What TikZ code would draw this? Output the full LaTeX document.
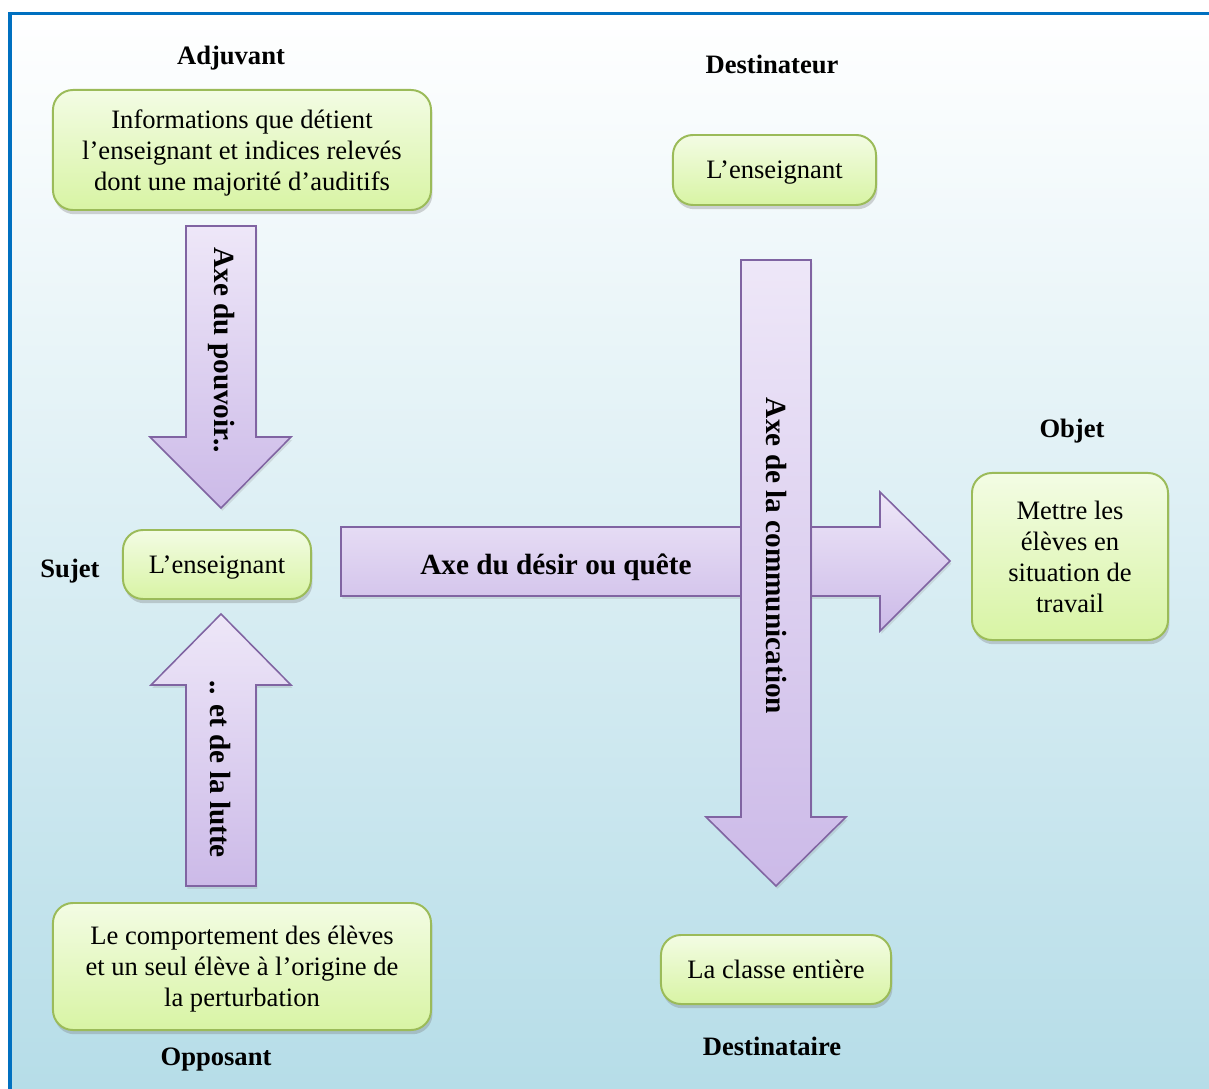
\documentclass[tikz,border=0pt]{standalone}
\usepackage{fontspec}
\setmainfont{Liberation Serif}
\usetikzlibrary{shadows}
\definecolor{frameblue}{HTML}{0070C0}
\definecolor{bgbottom}{HTML}{B6DDE8}
\definecolor{boxline}{HTML}{9BBB59}
\definecolor{boxtop}{HTML}{F3FCE4}
\definecolor{boxbottom}{HTML}{D8F4A4}
\definecolor{axeline}{HTML}{8064A2}
\definecolor{axetop}{HTML}{EEE7F8}
\definecolor{axebottom}{HTML}{CCBAE8}
\tikzset{
	actant/.style={font=\fontsize{18.9}{22}\selectfont\bfseries},
	greenbox/.style={draw=boxline,line width=1.4pt,rounded corners=0.5cm,
		top color=boxtop,bottom color=boxbottom,align=center,inner sep=0pt,
		text depth=0pt,font=\fontsize{18.9}{22}\selectfont,
		drop shadow={shadow xshift=1pt,shadow yshift=-3pt,opacity=0.3,fill=black!55}},
	axe/.style={draw=axeline,line width=1.1pt,top color=axetop,bottom color=axebottom,
		drop shadow={shadow xshift=1pt,shadow yshift=-2pt,opacity=0.2,fill=black!50}},
	axetext/.style={font=\fontsize{20.8}{24}\selectfont\bfseries}
}
\begin{document}
\begin{tikzpicture}[x=0.025cm,y=-0.025cm]
	\useasboundingbox (0,0) rectangle (1209,1089);
	% fond et cadre
	\shade[top color=white,bottom color=bgbottom] (10,13.5) rectangle (1209,1089);
	\draw[frameblue,line width=2.8pt] (10,1089) -- (10,13.5) -- (1209,13.5);
	% axes
	\draw[axe] (341,527) -- (880,527) -- (880,492) -- (950,561) -- (880,631) -- (880,596) -- (341,596) -- cycle;
	\node[axetext] (desir) at (556,567) {Axe du désir ou quête};
	\draw[axe] (741,260) -- (811,260) -- (811,817) -- (846,817) -- (776,886) -- (706,817) -- (741,817) -- cycle;
	\node[axetext,rotate=-90] (comm) at (776,556) {Axe de la communication};
	\draw[axe] (186,226) -- (256,226) -- (256,437) -- (291,437) -- (221,508) -- (150,437) -- (186,437) -- cycle;
	\node[axetext,rotate=-90] (pouvoir) at (222,350) {Axe du pouvoir..};
	\draw[axe] (186,886) -- (256,886) -- (256,685) -- (291,685) -- (221,614) -- (151,685) -- (186,685) -- cycle;
	\node[axetext,rotate=-90] (lutte) at (220,769) {.. et de la lutte};
	% actants
	\node[actant] (adjuvant) at (231,58) {Adjuvant};
	\node[greenbox,minimum width=9.45cm,minimum height=3cm] (adjbox) at (242,150)
		{Informations que détient\\l’enseignant et indices relevés\\dont une majorité d’auditifs};
	\node[actant] (destinateur) at (772,64) {Destinateur};
	\node[greenbox,minimum width=5.075cm,minimum height=1.75cm] (destbox) at (774.5,170) {L’enseignant};
	\node[actant] (sujet) at (70,571) {Sujet};
	\node[greenbox,minimum width=4.7cm,minimum height=1.725cm] (sujbox) at (217,564.5) {L’enseignant};
	\node[actant] (objet) at (1072,431) {Objet};
	\node[greenbox,minimum width=4.9cm,minimum height=4.175cm] (objbox) at (1070,556.5)
		{Mettre les\\élèves en\\situation de\\travail};
	\node[greenbox,minimum width=9.45cm,minimum height=3.175cm] (oppbox) at (242,966.5)
		{Le comportement des élèves\\et un seul élève à l’origine de\\la perturbation};
	\node[actant] (opposant) at (216,1060) {Opposant};
	\node[greenbox,minimum width=5.75cm,minimum height=1.725cm] (destbox2) at (776,969.5) {La classe entière};
	\node[actant] (destinataire) at (772,1046) {Destinataire};
\end{tikzpicture}
\end{document}
